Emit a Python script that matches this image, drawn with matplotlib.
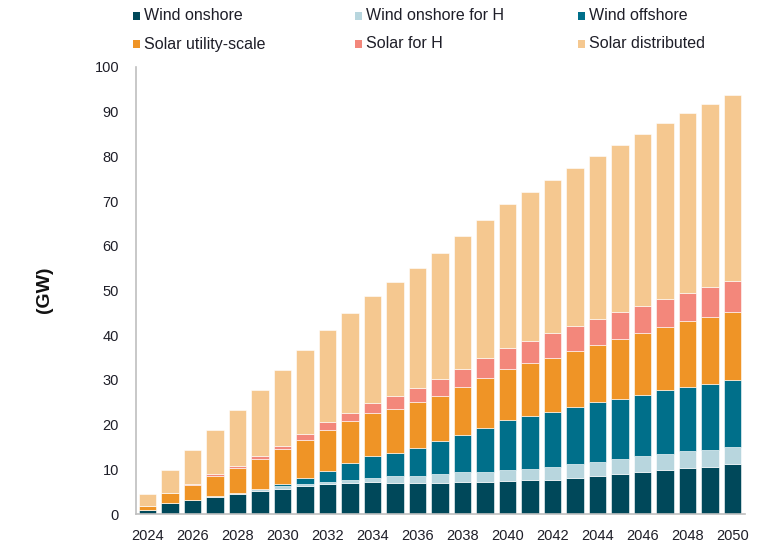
import numpy as np
import matplotlib
matplotlib.use("Agg")
import matplotlib.pyplot as plt
from matplotlib.patches import Rectangle

plt.rcParams['font.family'] = ['Liberation Sans', 'DejaVu Sans']

years = list(range(2024, 2051))

# GW per year, stacked bottom to top
wind_onshore = [0.8, 2.4, 3.1, 3.9, 4.4, 5.1, 5.7, 6.2, 6.6, 6.9, 7.1, 7.0, 7.0, 7.0,
                7.2, 7.2, 7.4, 7.5, 7.7, 8.1, 8.5, 8.9, 9.3, 9.9, 10.2, 10.6, 11.2]
wind_onshore_h = [0.0, 0.0, 0.0, 0.1, 0.3, 0.5, 0.5, 0.6, 0.6, 0.8, 1.0, 1.4, 1.5, 1.9,
                  2.1, 2.3, 2.5, 2.6, 2.8, 3.0, 3.2, 3.4, 3.6, 3.6, 3.8, 3.8, 3.8]
wind_offshore = [0.0, 0.0, 0.0, 0.0, 0.0, 0.0, 0.5, 1.3, 2.5, 3.6, 4.8, 5.2, 6.3, 7.4,
                 8.4, 9.7, 11.1, 11.8, 12.3, 12.9, 13.3, 13.5, 13.8, 14.2, 14.5, 14.7, 15.0]
solar_utility = [1.1, 2.4, 3.4, 4.6, 5.6, 6.7, 7.8, 8.5, 9.0, 9.4, 9.7, 9.9, 10.2, 10.2,
                 10.6, 11.2, 11.4, 11.8, 12.2, 12.5, 12.8, 13.4, 13.7, 14.2, 14.7, 15.0, 15.2]
solar_h = [0.0, 0.0, 0.1, 0.3, 0.5, 0.7, 0.8, 1.4, 1.8, 1.9, 2.2, 3.0, 3.1, 3.6,
           4.1, 4.4, 4.7, 4.9, 5.4, 5.5, 5.9, 6.0, 6.1, 6.3, 6.3, 6.7, 6.9]
solar_distributed = [2.6, 5.1, 7.7, 10.0, 12.5, 14.8, 17.0, 18.8, 20.6, 22.3, 24.0, 25.3, 26.9, 28.4,
                     29.7, 31.0, 32.3, 33.4, 34.4, 35.5, 36.5, 37.4, 38.5, 39.3, 40.3, 40.9, 41.7]

series = [
    ("Wind onshore", wind_onshore, "#00485a"),
    ("Wind onshore for H", wind_onshore_h, "#b8d6de"),
    ("Wind offshore", wind_offshore, "#006f8a"),
    ("Solar utility-scale", solar_utility, "#ef9426"),
    ("Solar for H", solar_h, "#f3877b"),
    ("Solar distributed", solar_distributed, "#f5c890"),
]

W, H = 772, 542
fig = plt.figure(figsize=(W / 100, H / 100), dpi=100)
ax = fig.add_axes([135.7 / W, 1 - 514 / H, (745 - 135.7) / W, (514 - 67) / H])

x = np.array(years)
bottom = np.zeros(len(years))
for name, vals, col in series:
    v = np.array(vals)
    ax.bar(x, v, bottom=bottom, width=0.78, color=col, edgecolor="white", linewidth=0.4)
    bottom += v

ax.set_xlim(2024 - 0.52, 2050 + 0.56)
ax.set_ylim(0, 100)
ax.set_yticks(range(0, 101, 10))
ax.set_xticks(years[::2])
ax.tick_params(axis="both", length=0, labelsize=10.5, colors="#1e1e28")
ax.tick_params(axis="x", pad=11)
ax.tick_params(axis="y", pad=12)
for s in ["top", "right"]:
    ax.spines[s].set_visible(False)
for s in ["left", "bottom"]:
    ax.spines[s].set_color("#bfbfbf")
    ax.spines[s].set_linewidth(1.2)

fig.text(45 / W, 1 - 290 / H, "(GW)", rotation=90, fontsize=14, fontweight="bold",
         ha="center", va="center", color="#111111")

# legend: 3 fixed columns, 2 rows
col_x = [133, 355, 578]
row_y = [16, 44]
for i, (name, _, col) in enumerate(series):
    cx = col_x[i % 3]
    cy = row_y[i // 3]
    fig.add_artist(Rectangle((cx / W, 1 - (cy + 3.5) / H), 7 / W, 7 / H,
                             transform=fig.transFigure, facecolor=col, edgecolor="none"))
    fig.text((cx + 11) / W, 1 - cy / H, name, fontsize=11.5, ha="left", va="center",
             color="#1e1e28")

fig.savefig("out.png", dpi=100)
